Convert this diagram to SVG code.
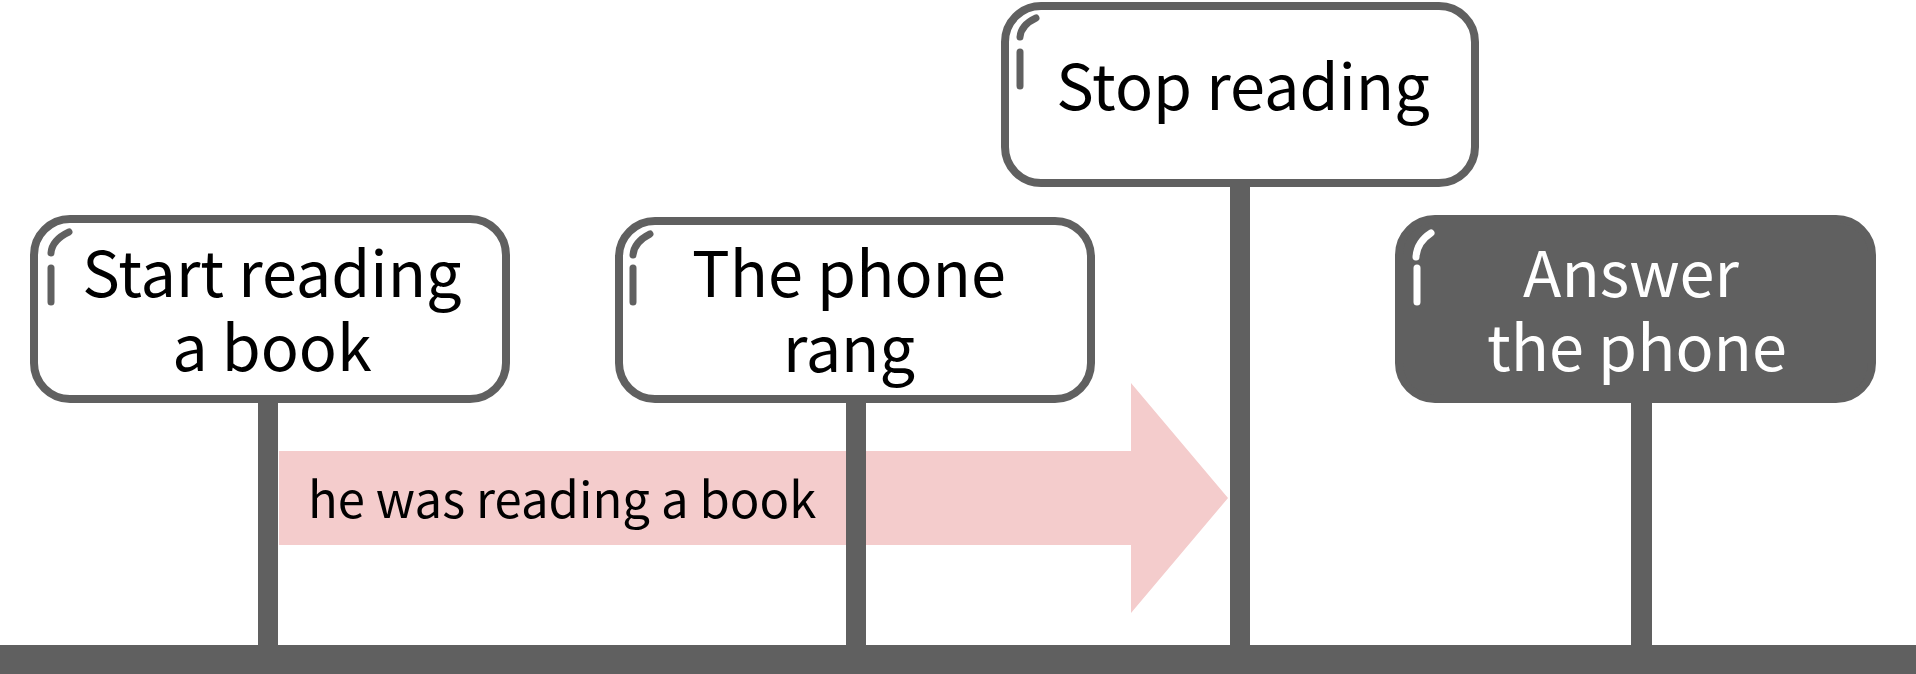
<svg xmlns="http://www.w3.org/2000/svg" width="1916" height="674" viewBox="0 0 1916 674">
<style>
.box{fill:#ffffff;stroke:#606060;stroke-width:8}
.dark{fill:#606060;stroke:#606060;stroke-width:8}
.pole{fill:#606060}
.hl{fill:none;stroke:#606060;stroke-width:7;stroke-linecap:round}
.hlw{fill:none;stroke:#ffffff;stroke-width:7;stroke-linecap:round}
.t{font-family:"Noto Sans CJK SC","Noto Sans",sans-serif;font-size:63px;text-anchor:middle;fill:#000}
.tw{fill:#ffffff}
.at{font-family:"Noto Sans CJK SC","Noto Sans",sans-serif;font-size:49px;fill:#000}
</style>
<rect width="1916" height="674" fill="#ffffff"/>
<g id="connectors">
<polygon points="279,451 1131,451 1131,383 1228,498 1131,613 1131,545 279,545" fill="#f4cccc"/>
<text class="at" x="308" y="518">he was reading a book</text>
<rect class="pole" x="258" y="398" width="20" height="250"/>
<rect class="pole" x="846" y="398" width="20" height="250"/>
<rect class="pole" x="1230" y="182" width="20" height="466"/>
<rect class="pole" x="1631" y="398" width="21" height="250"/>
<rect class="pole" x="0" y="645" width="1916" height="29"/>
</g>
<g id="node-start">
<rect class="box" x="34" y="219" width="472" height="180" rx="36"/>
<path class="hl" d="M69,232 Q52,240 51,253"/>
<line class="hl" x1="51" y1="268" x2="51" y2="302"/>
<text class="t" x="272" y="297">Start reading</text>
<text class="t" x="272" y="371">a book</text>
</g>
<g id="node-phone">
<rect class="box" x="619" y="221" width="472" height="178" rx="36"/>
<path class="hl" d="M650,234 Q634,242 633,255"/>
<line class="hl" x1="633" y1="268" x2="633" y2="302"/>
<text class="t" x="849" y="297">The phone</text>
<text class="t" x="849" y="372">rang</text>
</g>
<g id="node-stop">
<rect class="box" x="1005" y="6" width="470" height="177" rx="36"/>
<path class="hl" d="M1036,18 Q1021,25 1020,37"/>
<line class="hl" x1="1020" y1="52" x2="1020" y2="86"/>
<text class="t" x="1243" y="110">Stop reading</text>
</g>
<g id="node-answer">
<rect class="dark" x="1399" y="219" width="473" height="180" rx="36"/>
<path class="hlw" d="M1431,233 Q1417,242 1416,257"/>
<line class="hlw" x1="1417" y1="268" x2="1417" y2="302"/>
<text class="t tw" x="1631" y="297">Answer</text>
<text class="t tw" x="1637" y="371">the phone</text>
</g>
</svg>
